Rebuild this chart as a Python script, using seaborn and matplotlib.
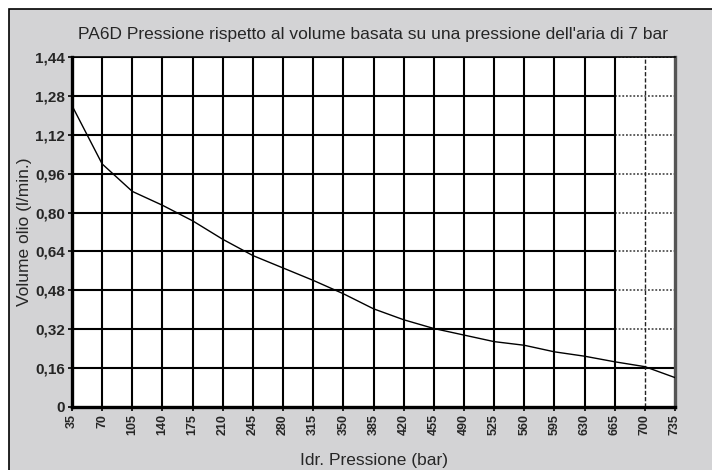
import matplotlib
matplotlib.use("Agg")
import matplotlib.pyplot as plt
import seaborn as sns
import pandas as pd
from matplotlib.patches import Rectangle
from matplotlib import font_manager

# Hydraulic pressure (bar) and oil volume (l/min.)
pressione = [35, 70, 105, 140, 175, 210, 245, 280, 315, 350, 385, 420,
             455, 490, 525, 560, 595, 630, 665, 700, 735]
volume = [1.24, 1.00, 0.887, 0.83, 0.766, 0.69, 0.623, 0.572, 0.521, 0.466,
          0.404, 0.359, 0.323, 0.296, 0.269, 0.254, 0.227, 0.209, 0.186,
          0.166, 0.121]

y_ticks = [0, 0.16, 0.32, 0.48, 0.64, 0.80, 0.96, 1.12, 1.28, 1.44]
y_labels = ["0", "0,16", "0,32", "0,48", "0,64", "0,80", "0,96", "1,12",
            "1,28", "1,44"]
x_labels = [str(v) for v in pressione]

title = "PA6D Pressione rispetto al volume basata su una pressione dell'aria di 7 bar"
x_title = "Idr. Pressione (bar)"
y_title = "Volume olio (l/min.)"

sns.set_theme(style="white")
names = {f.name for f in font_manager.fontManager.ttflist}
has_narrow = "Liberation Sans Narrow" in names
narrow = "Liberation Sans Narrow" if has_narrow else "Liberation Sans"
plt.rcParams["font.family"] = ["Liberation Sans", "DejaVu Sans"]
text_font = narrow if has_narrow else "Liberation Sans"
text_size = 15 if has_narrow else 12.5

W, H = 712, 470
fig = plt.figure(figsize=(W / 100, H / 100), dpi=100, facecolor="white")

# grey panel with a black frame at top and left
panel = Rectangle((9 / W, -0.05), 1.1, 1 - 9 / H + 0.05, transform=fig.transFigure,
                  facecolor="#d3d3d5", edgecolor="black", linewidth=1.2, zorder=-10)
fig.patches.append(panel)

ax = fig.add_axes([72 / W, (H - 407) / H, (675 - 72) / W, (407 - 57) / H])
ax.set_zorder(5)
ax.set_facecolor("white")

df = pd.DataFrame({"pressione": pressione, "volume": volume})

# grid: solid lines, with the last two columns drawn dotted
x_min, x_max = pressione[0], pressione[-1]
x_split = pressione[-3]
for y in y_ticks[1:]:
    if y >= y_ticks[2]:
        ax.hlines(y, x_min, x_split, colors="black", linewidth=1.5, zorder=1)
        ax.hlines(y, x_split, x_max, colors="#333333", linewidth=1.1,
                  linestyles=(0, (1.2, 1.2)), zorder=1)
    else:
        ax.hlines(y, x_min, x_max, colors="black", linewidth=1.5, zorder=1)
for x in pressione[1:-1]:
    if x == pressione[-2]:
        ax.vlines(x, 0, y_ticks[-1], colors="#222222", linewidth=1.0,
                  linestyles=(0, (3, 1.5)), zorder=1)
    else:
        ax.vlines(x, 0, y_ticks[-1], colors="black", linewidth=1.5, zorder=1)

sns.lineplot(data=df, x="pressione", y="volume", ax=ax, color="black",
             linewidth=1.0, zorder=3)

ax.set_xlim(x_min, x_max)
ax.set_ylim(y_ticks[0], y_ticks[-1])
ax.set_xticks(pressione)
ax.set_xticklabels(x_labels, rotation=90, fontsize=9, fontweight="bold",
                   family=narrow)
ax.set_yticks(y_ticks)
ax.set_yticklabels(y_labels, fontsize=11, fontweight="bold", family=narrow)
ax.tick_params(axis="both", direction="out", length=3, width=1.2, color="black",
               pad=2, bottom=True, left=True)

for side in ["left", "bottom"]:
    ax.spines[side].set_color("black")
    ax.spines[side].set_linewidth(2.4)
ax.spines["top"].set_color("black")
ax.spines["top"].set_linewidth(1.2)
ax.spines["right"].set_color("#555555")
ax.spines["right"].set_linewidth(2.4)

ax.set_xlabel(x_title, fontsize=text_size, family=text_font, labelpad=13)
ax.set_ylabel(y_title, fontsize=text_size, family=text_font, labelpad=2)

fig.text(373 / W, 1 - 34 / H, title, ha="center", va="center",
         fontsize=text_size, family=text_font)

fig.savefig("out.png", dpi=100, facecolor=fig.get_facecolor())
